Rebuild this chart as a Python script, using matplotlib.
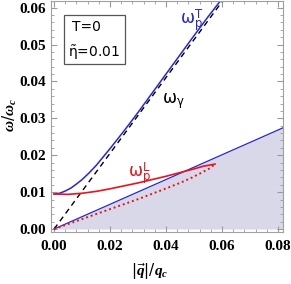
import matplotlib
matplotlib.use("Agg")
import matplotlib.pyplot as plt
from matplotlib.ticker import MultipleLocator
from matplotlib.patches import Rectangle

plt.rcParams['mathtext.fontset'] = 'custom'
plt.rcParams['mathtext.rm'] = 'DejaVu Sans'
plt.rcParams['mathtext.it'] = 'Liberation Serif:italic:bold'
plt.rcParams['mathtext.bf'] = 'Liberation Serif:bold'

# transverse plasmon branch
q_T = [0.0, 0.002, 0.004, 0.006, 0.008, 0.010, 0.0125, 0.015, 0.0175, 0.020, 0.025,
       0.030, 0.035, 0.040, 0.045, 0.050, 0.055, 0.0594]
w_T = [0.0095, 0.0097, 0.0103, 0.0111, 0.0122, 0.0134, 0.0152, 0.0172, 0.0195, 0.0218, 0.0266,
       0.0316, 0.0368, 0.0420, 0.0472, 0.0524, 0.0575, 0.0618]

# light line
q_gamma = [0.0, 0.0602]
w_gamma = [0.0, 0.0618]

# longitudinal plasmon branch (solid) and its continuation (dotted)
q_L = [0.0, 0.005, 0.010, 0.015, 0.020, 0.025, 0.030, 0.035, 0.040, 0.045, 0.050, 0.0532, 0.0575]
w_L = [0.0095, 0.0094, 0.0097, 0.0102, 0.0109, 0.0117, 0.0125, 0.0134, 0.0143, 0.0153, 0.0163, 0.0170, 0.0176]
q_Ld = [0.0, 0.010, 0.020, 0.030, 0.040, 0.045, 0.0486, 0.052, 0.0557, 0.0575]
w_Ld = [0.0, 0.0027, 0.0054, 0.0081, 0.0110, 0.0125, 0.0137, 0.0150, 0.0165, 0.0176]

# edge of the shaded continuum
q_edge = [0.0, 0.0820]
w_edge = [0.0, 0.0275]

blue = '#2626d9'
red = '#e8141c'

fig = plt.figure(figsize=(2.91, 2.84), dpi=100)
ax = fig.add_axes([51/291, 1-232/284, 232/291, 231/284])

ax.fill_between(q_edge, 0, w_edge, color='#d8d8e8', lw=0)
ax.plot(q_edge, w_edge, color=blue, lw=0.9)
ax.plot(q_gamma, w_gamma, color='black', lw=1.0, ls=(0, (4, 3)))
ax.plot(q_T, w_T, color=blue, lw=1.1)
ax.plot(q_L, w_L, color=red, lw=1.2)
ax.plot(q_Ld, w_Ld, color=red, lw=1.4, ls=(0, (1, 1.5)))

ax.set_xlim(-0.0011, 0.0818)
ax.set_ylim(-0.0008, 0.0618)

ax.xaxis.set_major_locator(MultipleLocator(0.02))
ax.xaxis.set_minor_locator(MultipleLocator(0.004))
ax.yaxis.set_major_locator(MultipleLocator(0.01))
ax.yaxis.set_minor_locator(MultipleLocator(0.002))
ax.tick_params(which='both', direction='in', top=True, right=True, color='#9a9a9a')
ax.tick_params(which='major', length=4, width=0.8)
ax.tick_params(which='minor', length=2, width=0.6)
ax.tick_params(axis='x', pad=6)
for s in ax.spines.values():
    s.set_color('#a0a0a0')
    s.set_linewidth(0.8)

ax.set_xticks([0.0, 0.02, 0.04, 0.06, 0.08])
ax.set_xticklabels(['0.00', '0.02', '0.04', '0.06', '0.08'])
ax.set_yticks([0.0, 0.01, 0.02, 0.03, 0.04, 0.05, 0.06])
ax.set_yticklabels(['0.00', '0.01', '0.02', '0.03', '0.04', '0.05', '0.06'])
for lab in ax.get_xticklabels() + ax.get_yticklabels():
    lab.set_family('Liberation Serif')
    lab.set_fontweight('bold')
    lab.set_fontsize(11)

fig.text(10/291, 1-115/284, r'$\omega/\omega_c$', rotation=90, ha='center', va='center', fontsize=11)
fig.text(150/291, 1-271/284, r'$|\vec{q}|/q_c$', ha='center', va='center', fontsize=11)

# legend box
ax.add_patch(Rectangle((0.056, 0.727), 0.263, 0.212, transform=ax.transAxes,
                       fill=False, ec='#555555', lw=0.9))
ax.text(0.09, 0.887, 'T=0', transform=ax.transAxes, va='center', fontsize=10)
ax.text(0.073, 0.775, r'$\tilde{\mathrm{\eta}}$=0.01', transform=ax.transAxes, va='center', fontsize=10)

ax.text(0.0450, 0.0557, r'ω$_\mathrm{p}^\mathrm{T}$', color=blue, fontsize=12, va='baseline')
ax.text(0.0386, 0.0341, r'ω$_\mathrm{\gamma}$', color='black', fontsize=12, va='baseline')
ax.text(0.0264, 0.0141, r'ω$_\mathrm{p}^\mathrm{L}$', color=red, fontsize=12, va='baseline')

fig.savefig('out.png', dpi=100)
